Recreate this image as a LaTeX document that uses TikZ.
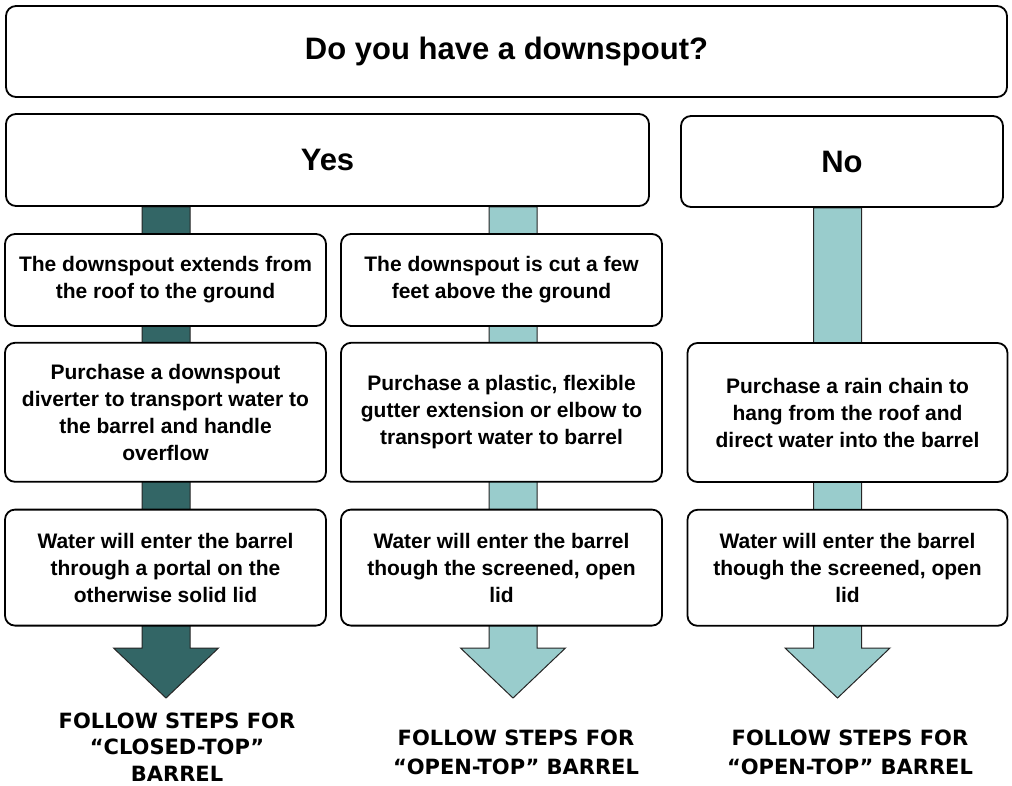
\documentclass[tikz,border=0pt]{standalone}
\usepackage{fontspec}
\setmainfont{Liberation Sans}
\newfontfamily\stepfont{DejaVu Sans}
\usepackage{xcolor}
\usetikzlibrary{positioning, calc, backgrounds}

\definecolor{spoutdark}{RGB}{51,102,102}
\definecolor{spoutlight}{RGB}{153,204,204}

\tikzset{
  card/.style={rectangle, rounded corners=10pt, draw, line width=1.8pt,
    fill=white, align=center, inner sep=0pt,
    font=\bfseries\fontsize{21}{27}\selectfont},
  bigcard/.style={card, font=\bfseries\fontsize{31}{35}\selectfont},
  followtxt/.style={align=center, inner sep=0pt, anchor=north,
    font=\stepfont\bfseries\fontsize{21}{29}\selectfont},
  pipe/.style={draw=black!85, line width=1pt}
}

\begin{document}
\begin{tikzpicture}[x=1pt, y=-1pt]
    \useasboundingbox (0,0) rectangle (1012,785);

    \node[bigcard,
      minimum width=1001pt,
      minimum height=91pt] (ask) at (506.5,51.5) {Do you have a downspout?};

    \node[bigcard,
      minimum width=643pt,
      minimum height=92pt] (yes) at (327.5,160) {Yes};

    \node[bigcard,
      minimum width=322pt,
      minimum height=91pt] (no) at (842,161.5) {No};

    % yes, full downspout
    \node[card,
      minimum width=321pt,
      minimum height=92pt] (full) at (165.5,280)
      {The downspout extends from\\the roof to the ground};

    \node[card,
      minimum width=321pt,
      minimum height=139pt,
      below=15pt of full] (diverter)
      {Purchase a downspout\\diverter to transport water to\\the barrel and handle\\overflow};

    \node[card,
      minimum width=321pt,
      minimum height=116pt,
      below=26pt of diverter] (portal)
      {Water will enter the barrel\\through a portal on the\\otherwise solid lid};

    % yes, cut downspout
    \node[card,
      minimum width=321pt,
      minimum height=92pt] (cut) at (501.5,280)
      {The downspout is cut a few\\feet above the ground};

    \node[card,
      minimum width=321pt,
      minimum height=139pt,
      below=15pt of cut] (elbow)
      {Purchase a plastic, flexible\\gutter extension or elbow to\\transport water to barrel};

    \node[card,
      minimum width=321pt,
      minimum height=116pt,
      below=26pt of elbow] (screen)
      {Water will enter the barrel\\though the screened, open\\lid};

    % no downspout
    \node[card,
      minimum width=320pt,
      minimum height=139pt] (chain) at (847.5,412.5)
      {Purchase a rain chain to\\hang from the roof and\\direct water into the barrel};

    \node[card,
      minimum width=320pt,
      minimum height=116pt,
      below=26pt of chain] (screen2)
      {Water will enter the barrel\\though the screened, open\\lid};

    \node[followtxt, font=\stepfont\bfseries\fontsize{21}{26.5}\selectfont]
      (closedtop) at (177,712.5)
      {FOLLOW STEPS FOR\\“CLOSED-TOP”\\BARREL};
    \node[followtxt] (opentop) at (516,729.5)
      {FOLLOW STEPS FOR\\“OPEN-TOP” BARREL};
    \node[followtxt] (opentop2) at (850,729.5)
      {FOLLOW STEPS FOR\\“OPEN-TOP” BARREL};

    \coordinate (tip1) at (166,698);
    \coordinate (tip2) at (513,698);
    \coordinate (tip3) at (837.5,698);

    \begin{scope}[on background layer]
      \filldraw[pipe, fill=spoutdark]
        ($(yes.south -| tip1)+(-24,0)$) -- ($(tip1)+(-24,-50)$)
        -- ($(tip1)+(-52.5,-50)$) -- (tip1) -- ($(tip1)+(52.5,-50)$)
        -- ($(tip1)+(24,-50)$) -- ($(yes.south -| tip1)+(24,0)$) -- cycle;
      \filldraw[pipe, fill=spoutlight]
        ($(yes.south -| tip2)+(-24,0)$) -- ($(tip2)+(-24,-50)$)
        -- ($(tip2)+(-52.5,-50)$) -- (tip2) -- ($(tip2)+(52.5,-50)$)
        -- ($(tip2)+(24,-50)$) -- ($(yes.south -| tip2)+(24,0)$) -- cycle;
      \filldraw[pipe, fill=spoutlight]
        ($(no.south -| tip3)+(-24,0)$) -- ($(tip3)+(-24,-50)$)
        -- ($(tip3)+(-52.5,-50)$) -- (tip3) -- ($(tip3)+(52.5,-50)$)
        -- ($(tip3)+(24,-50)$) -- ($(no.south -| tip3)+(24,0)$) -- cycle;
    \end{scope}
\end{tikzpicture}
\end{document}
